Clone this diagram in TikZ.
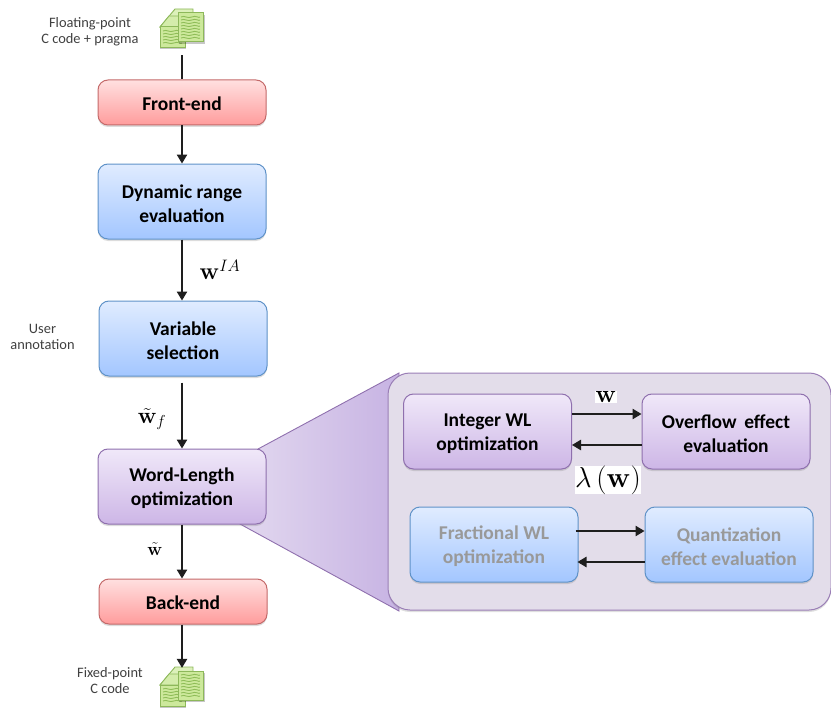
\documentclass[tikz,border=0pt]{standalone}
\usepackage[no-math]{fontspec}
\setmainfont{Carlito}
\usetikzlibrary{arrows.meta,shadows,positioning}
\definecolor{redT}{HTML}{FFE0E0}\definecolor{redB}{HTML}{FF9C9C}\definecolor{redL}{HTML}{C46A6A}
\definecolor{bluT}{HTML}{E0ECFF}\definecolor{bluB}{HTML}{A3C6FF}\definecolor{bluL}{HTML}{5F92C8}
\definecolor{purT}{HTML}{F0E8F9}\definecolor{purB}{HTML}{CDB6E6}\definecolor{purL}{HTML}{8F70AE}
\definecolor{panel}{HTML}{E3DDEA}\definecolor{arrowc}{HTML}{1E1E1E}
\definecolor{grnL}{HTML}{8DB85A}\definecolor{grnF}{HTML}{CDE99C}\definecolor{grnS}{HTML}{8FBD58}
\definecolor{fanL}{HTML}{E2D8EF}\definecolor{fanR}{HTML}{C7B3E3}
\newcommand{\twolines}[2]{\raisebox{-2pt}[\height][\depth]{\parbox{160pt}{\centering\baselineskip=24pt #1\\#2\par}}}
\newcommand{\oneline}[1]{\raisebox{-1pt}[\height][\depth]{#1}}
\tikzset{
 x=1pt,y=-1pt,
 blockbase/.style={rounded corners=10pt,draw,line width=1pt,align=center,inner sep=0pt,
   minimum width=168pt,font=\fontsize{19.5}{24}\selectfont\bfseries,text=black,
   drop shadow={opacity=.28,shadow xshift=0pt,shadow yshift=-2pt}},
 tallblock/.style={blockbase,minimum height=75pt},
 shortblock/.style={blockbase,minimum height=45pt},
 redbox/.style={draw=redL,top color=redT,bottom color=redB},
 blubox/.style={draw=bluL,top color=bluT,bottom color=bluB},
 purbox/.style={draw=purL,top color=purT,bottom color=purB},
 fadedtext/.style={text=black!40},
 flow/.style={arrowc,line width=1.1pt,-{Triangle[length=9pt,width=10.5pt]}},
 plainflow/.style={arrowc,line width=1.1pt},
 smalllabel/.style={align=center,inner sep=0pt,font=\fontsize{14.4}{16}\selectfont,text=black!75},
 mathlabel/.style={fill=white,inner sep=1pt,text=black},
 iconbox/.style={minimum width=44pt,minimum height=38pt,inner sep=0pt},
}
\newcommand{\docpage}[4]{% x y w h
 \filldraw[draw=grnL,fill=grnF,line width=1pt] (#1,#2) rectangle ++(#3,#4);
 \pgfmathsetmacro{\botk}{#4-4}
 \foreach \k in {4,7,...,\botk}{
  \draw[grnS,line width=.9pt] (#1+3,#2+\k) .. controls (#1+#3*.25,#2+\k-2) and (#1+#3*.4,#2+\k+2) .. (#1+#3*.55,#2+\k)
     .. controls (#1+#3*.7,#2+\k-2) and (#1+#3*.85,#2+\k+1.5) .. (#1+#3-3,#2+\k);}
}
\newcommand{\docstack}[2]{% top-left x,y
 \begin{scope}[shift={(#1,#2)}]
 \fill[black,opacity=.22] (1,21) rectangle (27,41.5);
 \filldraw[draw=grnL,fill=grnF!70!white,line width=.9pt] (1,19) -- (16,1) -- (34,1) -- (34,12) -- (28,19) -- cycle;
 \filldraw[draw=grnL,fill=grnF!85!white,line width=.9pt] (1,19) -- (10,8) -- (28,8) -- (26,19) -- cycle;
 \docpage{1}{19}{25}{21}
 \fill[black,opacity=.22] (20,7) rectangle (46,36);
 \docpage{19}{5}{25}{29}
 \end{scope}}
\begin{document}
\begin{tikzpicture}
\useasboundingbox (0,0) rectangle (831,709);
% funnel
\path[left color=fanL,right color=fanR,draw=purL,line width=.9pt]
  (240,524) -- (258,449) -- (399,373) -- (399,611) -- cycle;
% panel
\node[draw=purL!90,fill=panel,line width=1pt,rounded corners=22pt,minimum width=443pt,minimum height=237pt,inner sep=0pt,
  drop shadow={opacity=.25,shadow xshift=0pt,shadow yshift=-2pt}] (panelbox) at (609.5,491.5) {};
% icons
\docstack{159}{8}
\docstack{159}{666}
\node[iconbox] (srcicon) at (182,29) {};
\node[iconbox] (dsticon) at (182,687) {};
% main blocks
\node[shortblock,redbox] (front) at (182,102.5) {\oneline{Front-end}};
\node[tallblock,blubox] (dyn) at (182,201.5) {\twolines{Dynamic range}{evaluation}};
\node[tallblock,blubox] (var) at (183,338.5) {\twolines{Variable}{selection}};
\node[tallblock,purbox] (wl) at (182,486.5) {\twolines{Word-Length}{optimization}};
\node[shortblock,redbox] (back) at (183,601.5) {\oneline{Back-end}};
% inner blocks
\node[tallblock,purbox] (intwl) at (487.5,431.5) {\twolines{Integer WL}{optimization}};
\node[tallblock,purbox] (over) at (726,431.5) {\twolines{Overflow\, effect}{evaluation}};
\node[tallblock,blubox,fadedtext] (frac) at (494,544.5) {\twolines{Fractional WL}{optimization}};
\node[tallblock,blubox,fadedtext] (quant) at (729,544.5) {\twolines{Quantization}{effect evaluation}};
% labels
\node[smalllabel] (lfp) at (90,32) {Floating-point\\C code + pragma};
\node[smalllabel] (lfx) at (110,681) {Fixed-point\\C code};
\node[smalllabel] (luser) at (42.5,337) {User\\annotation};
% flow
\draw[plainflow] (srcicon.south) ++(0,7) -- (front.north);
\draw[flow] (front.south) -- (dyn.north);
\draw[flow] (dyn.south) -- ([xshift=-1pt]var.north);
\draw[flow] ([xshift=-1pt]var.south) ++(0,6) -- (wl.north);
\draw[flow] (wl.south) -- ([xshift=-1pt]back.north);
\draw[flow] ([xshift=-1pt]back.south) -- (dsticon.north);
\draw[flow] ([yshift=17.5pt]intwl.east) -- ([yshift=17.5pt]over.west);
\draw[flow] ([yshift=-13.5pt]over.west) -- ([yshift=-13.5pt]intwl.east);
\draw[flow] ([yshift=13.5pt,xshift=-3pt]frac.east) -- ([yshift=13.5pt]quant.west);
\draw[flow] ([yshift=-17.5pt]quant.west) -- ([yshift=-17.5pt,xshift=-1pt]frac.east);
% math labels
\node[mathlabel,font=\fontsize{22}{24}\selectfont] (wia) at (220,270) {\scalebox{1.15}{$\mathbf{w}^{IA}$}};
\node[mathlabel,font=\fontsize{22}{24}\selectfont] (wf) at (152,419) {\scalebox{1.1}{$\tilde{\mathbf{w}}_f$}};
\node[mathlabel,font=\fontsize{18}{20}\selectfont] (wt) at (155,549) {\scalebox{1.05}{$\tilde{\mathbf{w}}$}};
\node[mathlabel,font=\fontsize{24}{26}\selectfont,inner sep=.5pt] (wtop) at (606,397) {$\mathbf{w}$};
\node[mathlabel,font=\fontsize{31}{34}\selectfont,inner sep=0pt] (lam) at (608,480) {\scalebox{1.16}{$\lambda\left(\mathbf{w}\right)$}};
\end{tikzpicture}
\end{document}
